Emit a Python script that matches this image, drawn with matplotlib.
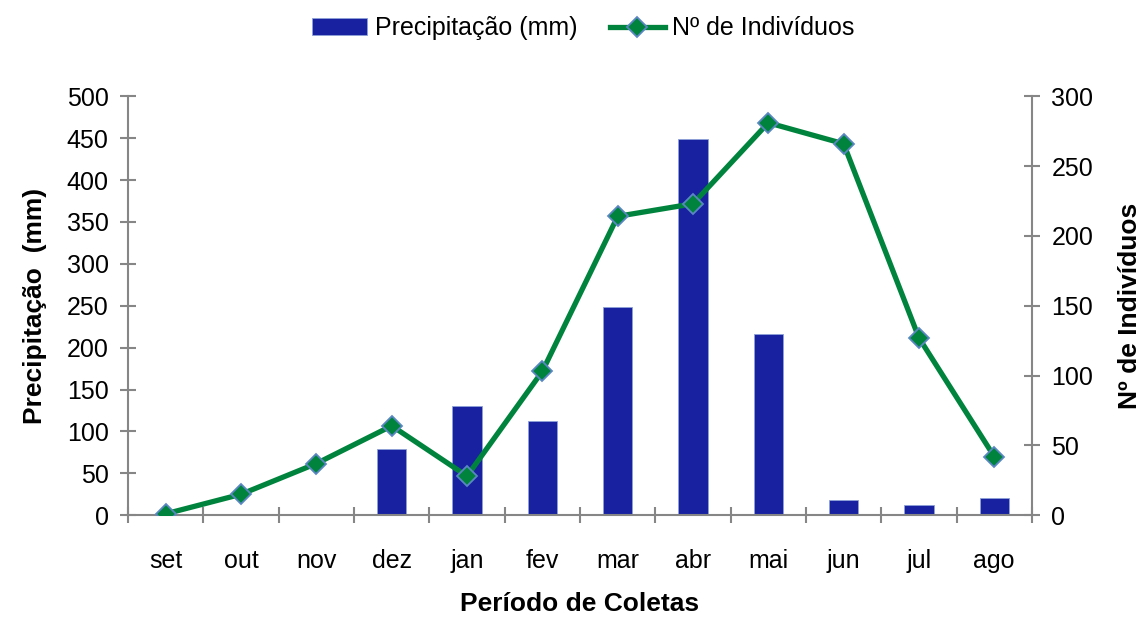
import matplotlib.pyplot as plt
import numpy as np

plt.rcParams['font.family'] = ['Liberation Sans', 'DejaVu Sans']

meses = ['set', 'out', 'nov', 'dez', 'jan', 'fev', 'mar', 'abr', 'mai', 'jun', 'jul', 'ago']
precipitacao = [0, 0, 0, 79, 130, 113, 248, 449, 216, 18, 12, 20]
individuos = [1, 15, 37, 64, 28, 103, 214, 223, 281, 266, 127, 42]

grey = '#868686'
x = np.arange(len(meses))

fig = plt.figure(figsize=(11.44, 6.17), dpi=100)
ax = fig.add_axes([0.112, 0.165, 0.79, 0.679])
ax2 = ax.twinx()

bars = ax.bar(x, precipitacao, width=0.39, color='#1822A0', edgecolor='#8EA0D8',
              linewidth=0.6, label='Precipitação (mm)', zorder=2)
line, = ax2.plot(x, individuos, color='#00843D', linewidth=3.8, marker='D',
                 markersize=10, markerfacecolor='#00843D', markeredgecolor='#5B86C4',
                 markeredgewidth=1.3, label='Nº de Indivíduos', zorder=3)

ax.set_xlim(-0.5, len(meses) - 0.5)
ax.set_ylim(0, 500)
ax.set_yticks(np.arange(0, 501, 50))
ax2.set_ylim(0, 300)
ax2.set_yticks(np.arange(0, 301, 50))

# category ticks sit between bars, labels centered under bars
ax.set_xticks(np.arange(-0.5, len(meses), 1))
ax.set_xticklabels([])
ax.set_xticks(x, minor=True)
ax.set_xticklabels(meses, minor=True, fontsize=18)
ax.tick_params(axis='x', which='minor', length=0, pad=24)
ax.tick_params(axis='x', which='major', direction='inout', length=12, color=grey, width=1.5)
ax.tick_params(axis='y', direction='inout', length=12, color=grey, width=1.5, labelsize=18, pad=8)
ax2.tick_params(axis='y', direction='inout', length=12, color=grey, width=1.5, labelsize=18, pad=8)

for a in (ax, ax2):
    a.spines['top'].set_visible(False)
    for s in ('left', 'right', 'bottom'):
        a.spines[s].set_color(grey)
        a.spines[s].set_linewidth(1.5)
ax2.spines['left'].set_visible(False)
ax2.spines['bottom'].set_visible(False)
ax.spines['right'].set_visible(False)

ax.set_ylabel('Precipitação  (mm)', fontsize=19, fontweight='bold', labelpad=14)
ax2.set_ylabel('Nº de Indivíduos', fontsize=19, fontweight='bold', rotation=90, labelpad=18)
ax.set_xlabel('Período de Coletas', fontsize=19, fontweight='bold', labelpad=14)

ax.set_zorder(ax2.get_zorder() - 1)
ax2.patch.set_visible(False)

fig.legend([bars, line], ['Precipitação (mm)', 'Nº de Indivíduos'], loc='upper center',
           bbox_to_anchor=(0.51, 1.01), ncol=2, frameon=False, fontsize=18,
           handlelength=2.2, columnspacing=1.3, handletextpad=0.3)

fig.savefig('out.png', dpi=100)
